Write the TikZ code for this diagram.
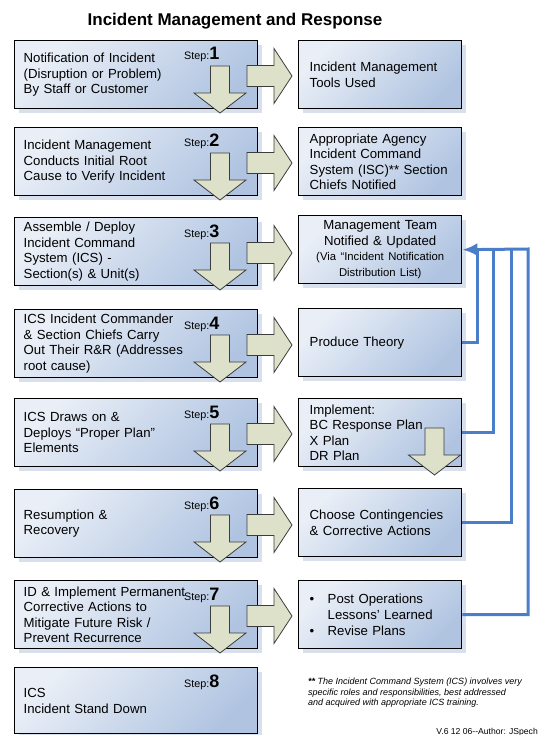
\documentclass[tikz,border=0pt]{standalone}
\usepackage{fontspec}
\setmainfont{Liberation Sans}
\usetikzlibrary{arrows.meta,shadows}
\definecolor{boxlight}{HTML}{EAEFF7}
\definecolor{boxdark}{HTML}{B0C4E1}
\definecolor{shadowc}{HTML}{D8E0EE}
\definecolor{arrfill}{HTML}{DEE1CA}
\definecolor{arrline}{HTML}{3C3C3C}
\definecolor{linkblue}{HTML}{4A7EC8}
\newcommand{\myfs}[2]{\fontsize{#1}{#2}\selectfont}
\begin{document}
\begin{tikzpicture}[x=1pt,y=-1pt,
 basebox/.style={draw=black, line width=1.4pt, top color=boxlight, bottom color=boxdark, shading angle=45,
   drop shadow={shadow xshift=4.5pt, shadow yshift=-4.5pt, fill=shadowc, opacity=1},
   minimum height=68pt, inner ysep=2pt, anchor=north west, align=left, font=\myfs{13.2}{15.6}},
 leftbox/.style={basebox, minimum width=243pt, inner xsep=9pt, text width=225pt},
 rightbox/.style={basebox, minimum width=163pt, inner xsep=11pt, text width=141pt},
 steplabel/.style={anchor=base west, inner sep=0pt, font=\myfs{10.8}{12}},
 blockarrow/.style={fill=arrfill, draw=arrline, line width=0.8pt, line join=miter},
 link/.style={draw=linkblue, line width=3pt},
 downarrow/.pic={\path[blockarrow] (-9.5,-47) -- (9.5,-47) -- (9.5,-20) -- (26,-20) -- (0,0) -- (-26,-20) -- (-9.5,-20) -- cycle;},
 rightarrow/.pic={\path[blockarrow] (-45,-10.5) -- (-18,-10.5) -- (-18,-27.5) -- (0,0) -- (-18,27.5) -- (-18,10.5) -- (-45,10.5) -- cycle;}
]
\useasboundingbox (0,0) rectangle (539,735);

\node[font=\myfs{17}{20}\bfseries] (title) at (235,21) {Incident Management and Response};

% left column
\node[leftbox] (l1) at (14,40) {Notification of Incident\\(Disruption or Problem)\\By Staff or Customer};
\node[leftbox] (l2) at (14,127) {Incident Management\\Conducts Initial Root\\Cause to Verify Incident};
\node[leftbox] (l3) at (14,217) {Assemble / Deploy\\Incident Command\\System (ICS) -\\Section(s) \& Unit(s)};
\node[leftbox] (l4) at (14,309) {ICS Incident Commander\\\& Section Chiefs Carry\\Out Their R\&R (Addresses\\root cause)};
\node[leftbox] (l5) at (14,398) {ICS Draws on \&\\Deploys “Proper Plan”\\Elements};
\node[leftbox] (l6) at (14,489) {Resumption \&\\Recovery};
\node[leftbox] (l7) at (14,580) {ID \& Implement Permanent\\Corrective Actions to\\Mitigate Future Risk /\\Prevent Recurrence};
\node[leftbox, minimum height=66pt] (l8) at (14,667) {ICS\\Incident Stand Down};

% right column
\node[rightbox] (r1) at (298,40) {Incident Management\\Tools Used};
\node[rightbox] (r2) at (298,127) {Appropriate Agency\\Incident Command\\System (ISC)** Section\\Chiefs Notified};
\node[rightbox, align=center] (r3) at (298,215) {Management Team\\Notified \& Updated\\{\myfs{11.3}{14}(Via “Incident Notification}\\{\myfs{11.3}{14}Distribution List)}};
\node[rightbox] (r4) at (298,308) {Produce Theory};
\node[rightbox] (r5) at (298,398) {Implement:\\BC Response Plan\\X Plan\\DR Plan};
\pic at (434.5,475) {downarrow};
\node[rightbox] (r6) at (298,488) {Choose Contingencies\\\& Corrective Actions};
\node[rightbox] (r7) at (298,580) {\makebox[18pt][l]{\textbullet}Post Operations\\\hspace*{18pt}Lessons’ Learned\\\makebox[18pt][l]{\textbullet}Revise Plans};

% step labels
\node[steplabel] (s1) at (184,60) {Step:{\myfs{18}{18}\bfseries 1}};
\node[steplabel] (s2) at (184,147) {Step:{\myfs{18}{18}\bfseries 2}};
\node[steplabel] (s3) at (184,237) {Step:{\myfs{18}{18}\bfseries 3}};
\node[steplabel] (s4) at (184,329) {Step:{\myfs{18}{18}\bfseries 4}};
\node[steplabel] (s5) at (184,418) {Step:{\myfs{18}{18}\bfseries 5}};
\node[steplabel] (s6) at (184,509) {Step:{\myfs{18}{18}\bfseries 6}};
\node[steplabel] (s7) at (184,600) {Step:{\myfs{18}{18}\bfseries 7}};
\node[steplabel] (s8) at (184,687) {Step:{\myfs{18}{18}\bfseries 8}};

% down arrows
\foreach \t in {40,127,217,309,398,489,580}{
  \pic at (220,\t+73) {downarrow};
}
% right arrows
\foreach \t in {40,127,217,309,398,489,580}{
  \pic at (292,\t+36) {rightarrow};
}

% blue feedback connectors
\coordinate (j1) at (477,249);
\coordinate (j2) at (493,249);
\coordinate (j3) at (511,249);
\coordinate (j4) at (528,249);
\draw[link,-{Latex[length=15pt,width=13pt]}] (r7.east) -| (j4) -- (r3.east);
\draw[link] (r4.east) -| (j1);
\draw[link] (r5.east) -| (j2);
\draw[link] (r6.east) -| (j3);

% footnote
\node[anchor=north west, inner sep=0pt, align=left, font=\myfs{9}{10.5}\itshape] (note) at (308,678)
 {\textbf{**} The Incident Command System (ICS) involves very\\specific roles and responsibilities, best addressed\\and acquired with appropriate ICS training.};
\node[anchor=base east, inner sep=0pt, font=\myfs{8.6}{10}] (ver) at (538,734) {V.6 12 06-{}-Author: JSpech};
\end{tikzpicture}
\end{document}
